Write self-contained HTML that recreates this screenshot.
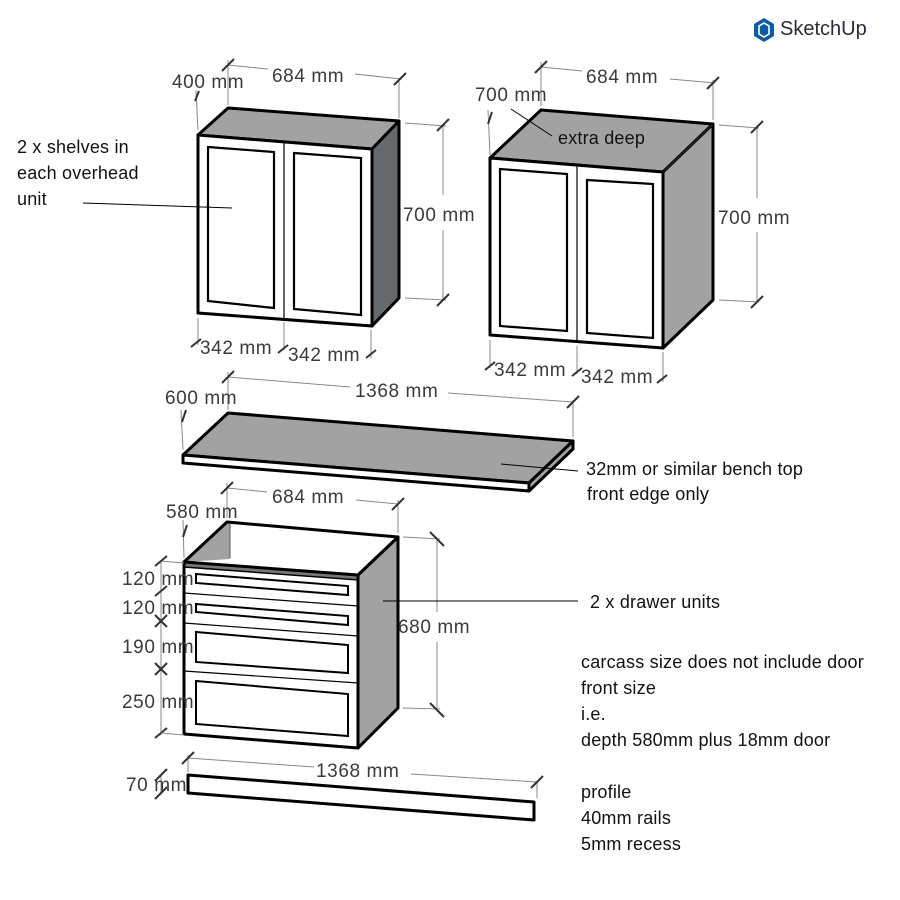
<!DOCTYPE html>
<html><head><meta charset="utf-8"><style>
html,body{margin:0;padding:0;background:#fff;width:900px;height:900px;overflow:hidden}
svg{display:block}
.d{font-family:"Liberation Sans",sans-serif;font-size:19px;letter-spacing:0.6px;fill:#3a3a3a}
.n{font-family:"Liberation Sans",sans-serif;font-size:18px;letter-spacing:0.2px;fill:#111}
.ext{stroke:#888;stroke-width:1;fill:none}
.tk{stroke:#333;stroke-width:2}
.ol{stroke:#000;stroke-width:3;stroke-linejoin:round}
.th{stroke:#000;stroke-width:1.2}
</style></head><body>
<svg width="900" height="900" viewBox="0 0 900 900" xmlns="http://www.w3.org/2000/svg">
<!-- logo -->
<g transform="translate(752,16)">
<path d="M2 8 L12 2 L22 8 L22 20 L12 26 L2 20 Z" fill="#0c5da5"/>
<path d="M7 10 L12 7 L17 10 L17 18 L12 21 L7 18 Z" fill="none" stroke="#fff" stroke-width="1.6"/>
</g>
<text x="780" y="35" font-family="Liberation Sans,sans-serif" font-size="20" fill="#2a2a3a">SketchUp</text>

<!-- ===== Top-left cabinet ===== -->
<polygon points="198,135 228,108 399,121 372,149" fill="#a2a2a2" class="ol"/>
<polygon points="372,149 399,121 399,298 372,326" fill="#646a6e" class="ol"/>
<polygon points="198,135 372,149 372,326 198,313" fill="#fff" class="ol"/>
<line x1="284" y1="142" x2="284" y2="320" class="th"/>
<polygon points="208,147 274,152 274,308 208,301" fill="#fff" stroke="#000" stroke-width="2.2"/>
<polygon points="294,153 361,158 361,315 294,309" fill="#fff" stroke="#000" stroke-width="2.2"/>
<line x1="228" y1="60" x2="228" y2="105" class="ext"/>
<line x1="399" y1="78" x2="399" y2="118" class="ext"/>
<line x1="228" y1="65" x2="268" y2="69" class="ext"/><line x1="355" y1="74" x2="401" y2="79" class="ext"/>
<line x1="222" y1="71" x2="234" y2="59" class="tk"/><line x1="394" y1="85" x2="406" y2="73" class="tk"/>
<text x="272" y="82" class="d">684 mm</text>
<text x="172" y="88" class="d">400 mm</text>
<line x1="196" y1="90" x2="198" y2="130" class="ext"/>
<line x1="195" y1="101" x2="199" y2="91" class="tk"/>
<line x1="405" y1="123" x2="446" y2="126" class="ext"/><line x1="405" y1="298" x2="446" y2="300" class="ext"/>
<line x1="443" y1="125" x2="443" y2="195" class="ext"/><line x1="443" y1="230" x2="443" y2="300" class="ext"/>
<line x1="437" y1="131" x2="449" y2="119" class="tk"/><line x1="437" y1="306" x2="449" y2="294" class="tk"/>
<text x="403" y="221" class="d">700 mm</text>
<line x1="198" y1="318" x2="198" y2="345" class="ext"/><line x1="284" y1="322" x2="284" y2="350" class="ext"/><line x1="371" y1="330" x2="371" y2="358" class="ext"/>
<line x1="191" y1="347" x2="201" y2="339" class="tk"/><line x1="278" y1="353" x2="288" y2="345" class="tk"/><line x1="366" y1="358" x2="376" y2="350" class="tk"/>
<text x="200" y="354" class="d">342 mm</text>
<text x="288" y="361" class="d">342 mm</text>
<line x1="83" y1="203" x2="232" y2="208" stroke="#000" stroke-width="1"/>
<text x="17" y="153" class="n">2 x shelves in</text>
<text x="17" y="179" class="n">each overhead</text>
<text x="17" y="205" class="n">unit</text>

<!-- ===== Top-right cabinet ===== -->
<polygon points="490,158 541,110 713,124 663,172" fill="#a2a2a2" class="ol"/>
<polygon points="663,172 713,124 713,300 663,348" fill="#a2a2a2" class="ol"/>
<line x1="663" y1="172" x2="713" y2="124" stroke="#333" stroke-width="1"/>
<polygon points="490,158 663,172 663,348 490,335" fill="#fff" class="ol"/>
<line x1="577" y1="165" x2="577" y2="342" class="th"/>
<polygon points="500,169 567,174 567,331 500,326" fill="#fff" stroke="#000" stroke-width="2.2"/>
<polygon points="587,180 653,184 653,338 587,333" fill="#fff" stroke="#000" stroke-width="2.2"/>
<line x1="541" y1="62" x2="541" y2="106" class="ext"/><line x1="713" y1="80" x2="713" y2="120" class="ext"/>
<line x1="541" y1="67" x2="582" y2="71" class="ext"/><line x1="670" y1="79" x2="715" y2="83" class="ext"/>
<line x1="535" y1="73" x2="547" y2="61" class="tk"/><line x1="707" y1="89" x2="719" y2="77" class="tk"/>
<text x="586" y="83" class="d">684 mm</text>
<text x="475" y="101" class="d">700 mm</text>
<line x1="488" y1="110" x2="490" y2="155" class="ext"/>
<line x1="488" y1="124" x2="492" y2="112" class="tk"/>
<line x1="511" y1="109" x2="552" y2="136" stroke="#000" stroke-width="1"/>
<text x="558" y="144" class="n">extra deep</text>
<line x1="719" y1="125" x2="759" y2="128" class="ext"/><line x1="719" y1="300" x2="759" y2="302" class="ext"/>
<line x1="757" y1="127" x2="757" y2="198" class="ext"/><line x1="757" y1="232" x2="757" y2="302" class="ext"/>
<line x1="751" y1="133" x2="763" y2="121" class="tk"/><line x1="751" y1="308" x2="763" y2="296" class="tk"/>
<text x="718" y="224" class="d">700 mm</text>
<line x1="490" y1="340" x2="490" y2="368" class="ext"/><line x1="577" y1="346" x2="577" y2="374" class="ext"/><line x1="663" y1="352" x2="663" y2="382" class="ext"/>
<line x1="485" y1="370" x2="495" y2="362" class="tk"/><line x1="572" y1="376" x2="582" y2="368" class="tk"/><line x1="657" y1="383" x2="667" y2="375" class="tk"/>
<text x="494" y="376" class="d">342 mm</text>
<text x="581" y="383" class="d">342 mm</text>

<!-- ===== Bench top ===== -->
<polygon points="183,455 228,413 573,441 529,483" fill="#a2a2a2" class="ol"/>
<polygon points="183,455 529,483 529,491 183,463" fill="#fff" class="ol"/>
<polygon points="529,483 573,441 573,449 529,491" fill="#a2a2a2" class="ol"/>
<line x1="228" y1="372" x2="228" y2="410" class="ext"/><line x1="573" y1="400" x2="573" y2="437" class="ext"/>
<line x1="228" y1="377" x2="350" y2="387" class="ext"/><line x1="448" y1="393" x2="573" y2="402" class="ext"/>
<line x1="222" y1="383" x2="234" y2="371" class="tk"/><line x1="567" y1="408" x2="579" y2="396" class="tk"/>
<text x="355" y="397" class="d">1368 mm</text>
<text x="165" y="404" class="d">600 mm</text>
<line x1="181" y1="410" x2="183" y2="450" class="ext"/>
<line x1="182" y1="422" x2="186" y2="410" class="tk"/>
<line x1="501" y1="464" x2="578" y2="471" stroke="#000" stroke-width="1"/>
<text x="586" y="475" class="n">32mm or similar bench top</text>
<text x="587" y="500" class="n">front edge only</text>

<!-- ===== Drawer unit ===== -->
<polygon points="227,522 398,537 398,708 358,748 184,734 184,562" fill="#fff"/>
<polygon points="184,562 227,522 230,522 230,559" fill="#a2a2a2"/>
<polygon points="358,575 398,537 398,708 358,748" fill="#a2a2a2" class="ol"/>
<polyline points="184,562 227,522 398,537 358,575" fill="none" class="ol"/>
<line x1="230" y1="523" x2="230" y2="558" stroke="#555" stroke-width="1"/>
<polygon points="184,562 358,575 358,580 184,567" fill="#777" stroke="#000" stroke-width="1.5"/>
<polygon points="184,562 358,575 358,748 184,734" fill="none" class="ol"/>
<line x1="184" y1="593" x2="358" y2="606" class="th"/>
<line x1="184" y1="623" x2="358" y2="636" class="th"/>
<line x1="184" y1="671" x2="358" y2="683" class="th"/>
<polygon points="196,574 348,586 348,595 196,583" fill="#fff" stroke="#000" stroke-width="2"/>
<polygon points="196,604 348,616 348,625 196,612" fill="#fff" stroke="#000" stroke-width="2"/>
<polygon points="196,632 348,645 348,673 196,662" fill="#fff" stroke="#000" stroke-width="2"/>
<polygon points="196,681 348,694 348,736 196,724" fill="#fff" stroke="#000" stroke-width="2"/>
<line x1="227" y1="483" x2="227" y2="518" class="ext"/><line x1="398" y1="500" x2="398" y2="533" class="ext"/>
<line x1="227" y1="488" x2="267" y2="492" class="ext"/><line x1="356" y1="500" x2="398" y2="504" class="ext"/>
<line x1="221" y1="494" x2="233" y2="482" class="tk"/><line x1="392" y1="510" x2="404" y2="498" class="tk"/>
<text x="272" y="503" class="d">684 mm</text>
<text x="166" y="518" class="d">580 mm</text>
<line x1="183" y1="520" x2="184" y2="558" class="ext"/>
<line x1="183" y1="537" x2="187" y2="525" class="tk"/>
<line x1="403" y1="537" x2="440" y2="539" class="ext"/><line x1="403" y1="708" x2="440" y2="709" class="ext"/>
<line x1="437" y1="538" x2="437" y2="612" class="ext"/><line x1="437" y1="642" x2="437" y2="710" class="ext"/>
<line x1="430" y1="532" x2="444" y2="546" class="tk"/><line x1="430" y1="703" x2="444" y2="717" class="tk"/>
<text x="398" y="633" class="d">680 mm</text>
<line x1="161" y1="560" x2="161" y2="735" class="ext"/>
<line x1="161" y1="561" x2="184" y2="563" class="ext"/>
<line x1="155" y1="566" x2="167" y2="556" class="tk"/><line x1="155" y1="596" x2="167" y2="586" class="tk"/>
<line x1="155" y1="615" x2="167" y2="627" class="tk"/><line x1="155" y1="627" x2="167" y2="615" class="tk"/>
<line x1="155" y1="663" x2="167" y2="675" class="tk"/><line x1="155" y1="675" x2="167" y2="663" class="tk"/>
<line x1="155" y1="738" x2="167" y2="728" class="tk"/>
<line x1="161" y1="733" x2="184" y2="735" class="ext"/>
<text x="122" y="585" class="d">120 mm</text>
<text x="122" y="614" class="d">120 mm</text>
<text x="122" y="653" class="d">190 mm</text>
<text x="122" y="708" class="d">250 mm</text>
<line x1="383" y1="601" x2="578" y2="601" stroke="#000" stroke-width="1"/>
<text x="590" y="608" class="n">2 x drawer units</text>

<!-- plinth -->
<polygon points="188,775 534,802 534,820 188,793" fill="#fff" class="ol"/>
<line x1="188" y1="755" x2="188" y2="772" class="ext"/><line x1="537" y1="782" x2="537" y2="798" class="ext"/>
<line x1="188" y1="758" x2="314" y2="767" class="ext"/><line x1="411" y1="774" x2="537" y2="782" class="ext"/>
<line x1="182" y1="764" x2="194" y2="752" class="tk"/><line x1="531" y1="788" x2="543" y2="776" class="tk"/>
<text x="316" y="777" class="d">1368 mm</text>
<line x1="161" y1="775" x2="161" y2="795" class="ext"/>
<line x1="155" y1="781" x2="167" y2="769" class="tk"/><line x1="155" y1="799" x2="167" y2="787" class="tk"/>
<text x="126" y="791" class="d">70 mm</text>

<text x="581" y="668" class="n">carcass size does not include door</text>
<text x="581" y="694" class="n">front size</text>
<text x="581" y="720" class="n">i.e.</text>
<text x="581" y="746" class="n">depth 580mm plus 18mm door</text>
<text x="581" y="798" class="n">profile</text>
<text x="581" y="824" class="n">40mm rails</text>
<text x="581" y="850" class="n">5mm recess</text>
</svg>
</body></html>
